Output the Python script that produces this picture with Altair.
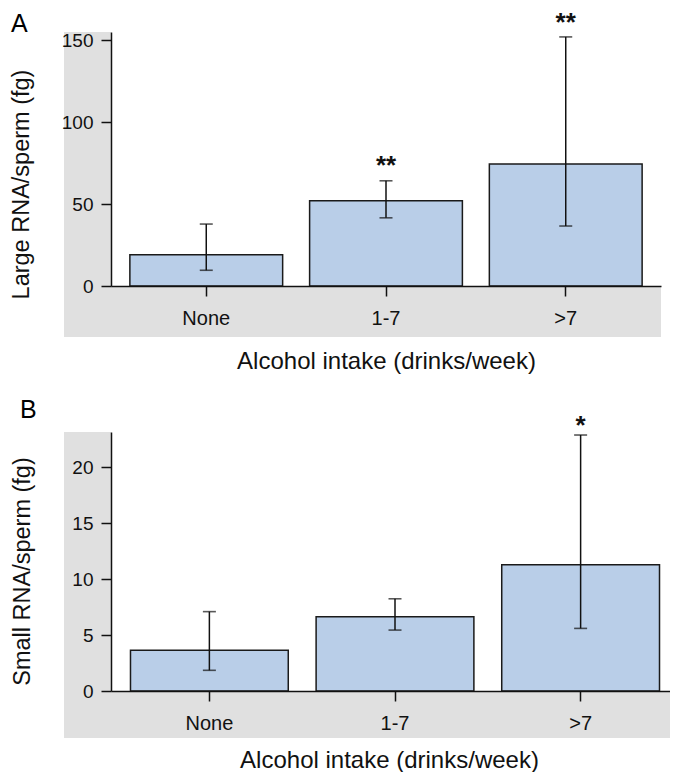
import altair as alt
import pandas as pd

categories = ["None", "1-7", ">7"]
large_mean = [19.0, 52.0, 74.5]
large_lo = [9.6, 41.6, 36.6]
large_hi = [37.8, 64.2, 152.0]
large_sig = ["", "**", "**"]
small_mean = [3.65, 6.65, 11.3]
small_lo = [1.85, 5.45, 5.6]
small_hi = [7.1, 8.25, 22.9]
small_sig = ["", "", "*"]
large_ticks = [0, 50, 100, 150]
small_ticks = [0, 5, 10, 15, 20]

FONT = "Liberation Sans, Arial, Helvetica, sans-serif"
BAR_FILL = "#b9cee8"
GRAY = "#e0e0e0"
INK = "#111111"


def panel(letter, ytitle, mean, lo, hi, sig, ymax, yticks, W, H,
          gray_bottom, ytitle_pad, ytitle_y, xtitle_pad, xtitle_x,
          star_dy, letter_dx, letter_dy):
    df = pd.DataFrame({"cat": categories, "mean": mean, "lo": lo, "hi": hi, "sig": sig})
    one = pd.DataFrame({"k": [0]})
    xaxis = alt.Axis(title="Alcohol intake (drinks/week)", labelAngle=0,
                     labelFontSize=20, titleFontSize=24, tickSize=10,
                     labelPadding=12, titlePadding=xtitle_pad, titleX=xtitle_x,
                     zindex=1)
    yaxis = alt.Axis(title=ytitle, values=yticks, labelFontSize=19,
                     titleFontSize=23.5, tickSize=10, labelPadding=8,
                     titlePadding=ytitle_pad, titleY=ytitle_y, zindex=1)
    xscale = alt.Scale(paddingInner=0.15, paddingOuter=0.105)
    yscale = alt.Scale(domain=[0, ymax], nice=False, zero=True)

    def X():
        return alt.X("cat:N", sort=categories, scale=xscale, axis=xaxis)

    def Y(f):
        return alt.Y(f"{f}:Q", scale=yscale, axis=yaxis)

    base = alt.Chart(df)
    gray = alt.Chart(one).mark_rect(fill=GRAY, clip=False).encode(
        x=alt.value(-47), x2=alt.value(W), y=alt.value(0), y2=alt.value(H + gray_bottom))
    white = alt.Chart(one).mark_rect(fill="white").encode(
        x=alt.value(0), x2=alt.value(W), y=alt.value(0), y2=alt.value(H))
    bars = base.mark_bar(fill=BAR_FILL, stroke="#1a1a1a", strokeWidth=1.5).encode(
        x=X(), y=Y("mean"))
    rule = base.mark_rule(color=INK, strokeWidth=1.5).encode(
        x=X(), y=Y("lo"), y2="hi:Q")
    cap_lo = base.mark_tick(color=INK, thickness=1.6, size=13, orient="horizontal").encode(
        x=X(), y=Y("lo"))
    cap_hi = base.mark_tick(color=INK, thickness=1.6, size=13, orient="horizontal").encode(
        x=X(), y=Y("hi"))
    stars = base.mark_text(fontSize=26, fontWeight="bold", baseline="middle",
                           dy=star_dy, font=FONT, color=INK).encode(
        x=X(), y=Y("hi"), text="sig:N")
    lab = alt.Chart(one).mark_text(text=letter, fontSize=25, align="left",
                                   baseline="alphabetic", font=FONT, color="black").encode(
        x=alt.value(letter_dx), y=alt.value(letter_dy))
    return alt.layer(gray, white, bars, rule, cap_lo, cap_hi, stars, lab).properties(
        width=W, height=H)


pa = panel("A", "Large RNA/sperm (fg)", large_mean, large_lo, large_hi, large_sig,
           155, large_ticks, 550, 254, 51, 28, 152, 21.5, 275, -14.3, -100, 0)
pb = panel("B", "Small RNA/sperm (fg)", small_mean, small_lo, small_hi, small_sig,
           23.17, small_ticks, 568, 259, 47, 37, 139, 15, 278, -8.8, -91, -14)

chart = alt.vconcat(pa, pb, spacing=24).properties(
    padding={"left": 1, "top": 1, "right": -9, "bottom": 0},
    background="white",
).configure_view(stroke=None).configure_axis(
    domainColor=INK, tickColor=INK, labelColor=INK, titleColor=INK,
    domainWidth=1.5, tickWidth=1.5, grid=False,
    labelFont=FONT, titleFont=FONT, titleFontWeight="normal",
)

chart.save("out.html", embed_options={"renderer": "svg", "actions": False})
